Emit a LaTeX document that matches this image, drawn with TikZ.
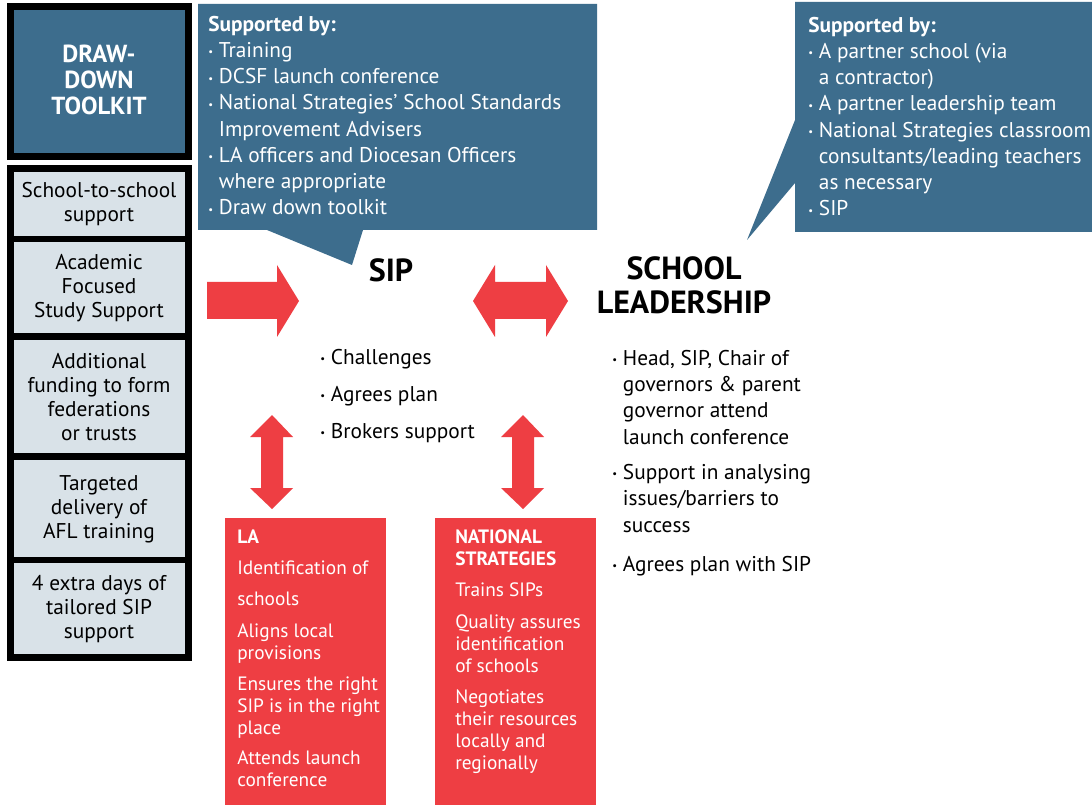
\documentclass[tikz,border=0pt]{standalone}
\usepackage{fontspec}
\setmainfont{PT Sans}
\definecolor{sblue}{HTML}{3D6D8D}
\definecolor{sred}{HTML}{EE3E43}
\definecolor{slight}{HTML}{D9E2E8}
\newcommand\mybul{\makebox[8pt][l]{\raisebox{0.15ex}{\footnotesize\textbullet}}}
\newcommand\myind{\hspace*{8pt}}
\begin{document}
\begin{tikzpicture}[x=0.75pt,y=-0.75pt,
  body/.style={font=\fontsize{16}{19.7}\selectfont, inner sep=0pt, align=left, anchor=base west},
  wbody/.style={body, text=white},
  redtxt/.style={font=\fontsize{14.5}{16.5}\selectfont, inner sep=0pt, align=left, anchor=base west, text=white},
  stacktxt/.style={font=\fontsize{16}{18}\selectfont, inner sep=0pt, align=center},
  title/.style={font=\fontsize{24}{25.5}\selectfont\bfseries, inner sep=0pt, align=center}]
\useasboundingbox (0,0) rectangle (1092,805);
\fill[white] (0,0) rectangle (1092,805);
% toolkit box
\fill[black] (7,3) rectangle (192,160);
\fill[sblue] (14,10) rectangle (185,153);
\node[font=\fontsize{18.5}{19.5}\selectfont\bfseries, text=white, align=center, inner sep=0pt] (toolkit) at (99,80) {DRAW-\\DOWN\\TOOLKIT};
% stack
\fill[black] (7,165) rectangle (192,661);
\fill[slight] (14,172) rectangle (185,236);
\fill[slight] (14,242) rectangle (185,333);
\fill[slight] (14,340) rectangle (185,453);
\fill[slight] (14,460) rectangle (185,557);
\fill[slight] (14,563) rectangle (185,654);
\node[stacktxt] (s1) at (99,204) {School-to-school\\support};
\node[stacktxt] (s2) at (99,288) {Academic\\Focused\\Study Support};
\node[stacktxt] (s3) at (99,397) {Additional\\funding to form\\federations\\or trusts};
\node[stacktxt] (s4) at (99,509) {Targeted\\delivery of\\AFL training};
\node[stacktxt] (s5) at (99,609) {4 extra days of\\tailored SIP\\support};
% callout 1
\fill[sblue] (198,4) -- (597,4) -- (597,230) -- (363,230) -- (352,265) -- (267,230) -- (198,230) -- cycle;
\node[wbody] (sup1) at (208,215) {\textbf{Supported by:}\\
\mybul Training\\
\mybul DCSF launch conference\\
\mybul National Strategies’ School Standards\\
\myind Improvement Advisers\\
\mybul LA officers and Diocesan Officers\\
\myind where appropriate\\
\mybul Draw down toolkit};
% callout 2
\fill[sblue] (795,2) -- (1092,2) -- (1092,232) -- (795,232) -- (795,183) -- (747,240) -- (795,120) -- cycle;
\node[wbody] (sup2) at (808,216) {\textbf{Supported by:}\\
\mybul A partner school (via\\
\myind a contractor)\\
\mybul A partner leadership team\\
\mybul National Strategies classroom\\
\myind consultants/leading teachers\\
\myind as necessary\\
\mybul SIP};
% titles
\node[title] (sip) at (391,270) {SIP};
\node[title] (lead) at (684,285) {SCHOOL\\LEADERSHIP};
% SIP bullets
\node[body, font=\fontsize{16}{27.75}\selectfont] (sipb) at (320,438) {\mybul Challenges\\ \mybul Agrees plan\\ \mybul Brokers support};
% leadership bullets
\node[body] (lb1) at (612,444) {\mybul Head, SIP, Chair of\\ \myind governors \& parent\\ \myind governor attend\\ \myind launch conference};
\node[body] (lb2) at (612,532) {\mybul Support in analysing\\ \myind issues/barriers to\\ \myind success};
\node[body] (lb3) at (612,571) {\mybul Agrees plan with SIP};
% arrows
\fill[sred] (207,282) -- (277,282) -- (277,265) -- (299,301) -- (277,337) -- (277,319) -- (207,319) -- cycle;
\fill[sred] (473,301) -- (495,265) -- (495,282) -- (546,282) -- (546,265) -- (568,301) -- (546,337) -- (546,319) -- (495,319) -- (495,337) -- cycle;
\fill[sred] (272,415) -- (293,437) -- (283,437) -- (283,488) -- (293,488) -- (272,509) -- (250,488) -- (261,488) -- (261,437) -- (250,437) -- cycle;
\fill[sred] (523,415) -- (544,437) -- (534,437) -- (534,488) -- (544,488) -- (523,509) -- (501,488) -- (512,488) -- (512,437) -- (501,437) -- cycle;
% red boxes
\fill[sred] (225,518) rectangle (386,805);
\fill[sred] (435,518) rectangle (596,805);
\node[redtxt] (la0) at (237,543) {\textbf{LA}};
\node[redtxt] (la1) at (237,574) {Identification of};
\node[redtxt] (la2) at (237,605) {schools};
\node[redtxt] (la3) at (237,659) {Aligns local\\provisions};
\node[redtxt] (la4) at (237,734) {Ensures the right\\SIP is in the right\\place};
\node[redtxt] (la5) at (237,786) {Attends launch\\conference};
\node[redtxt] (ns0) at (455,565) {\textbf{NATIONAL}\\\textbf{STRATEGIES}};
\node[redtxt] (ns1) at (455,596) {Trains SIPs};
\node[redtxt] (ns2) at (455,672) {Quality assures\\identification\\of schools};
\node[redtxt] (ns3) at (455,769) {Negotiates\\their resources\\locally and\\regionally};
\end{tikzpicture}
\end{document}
